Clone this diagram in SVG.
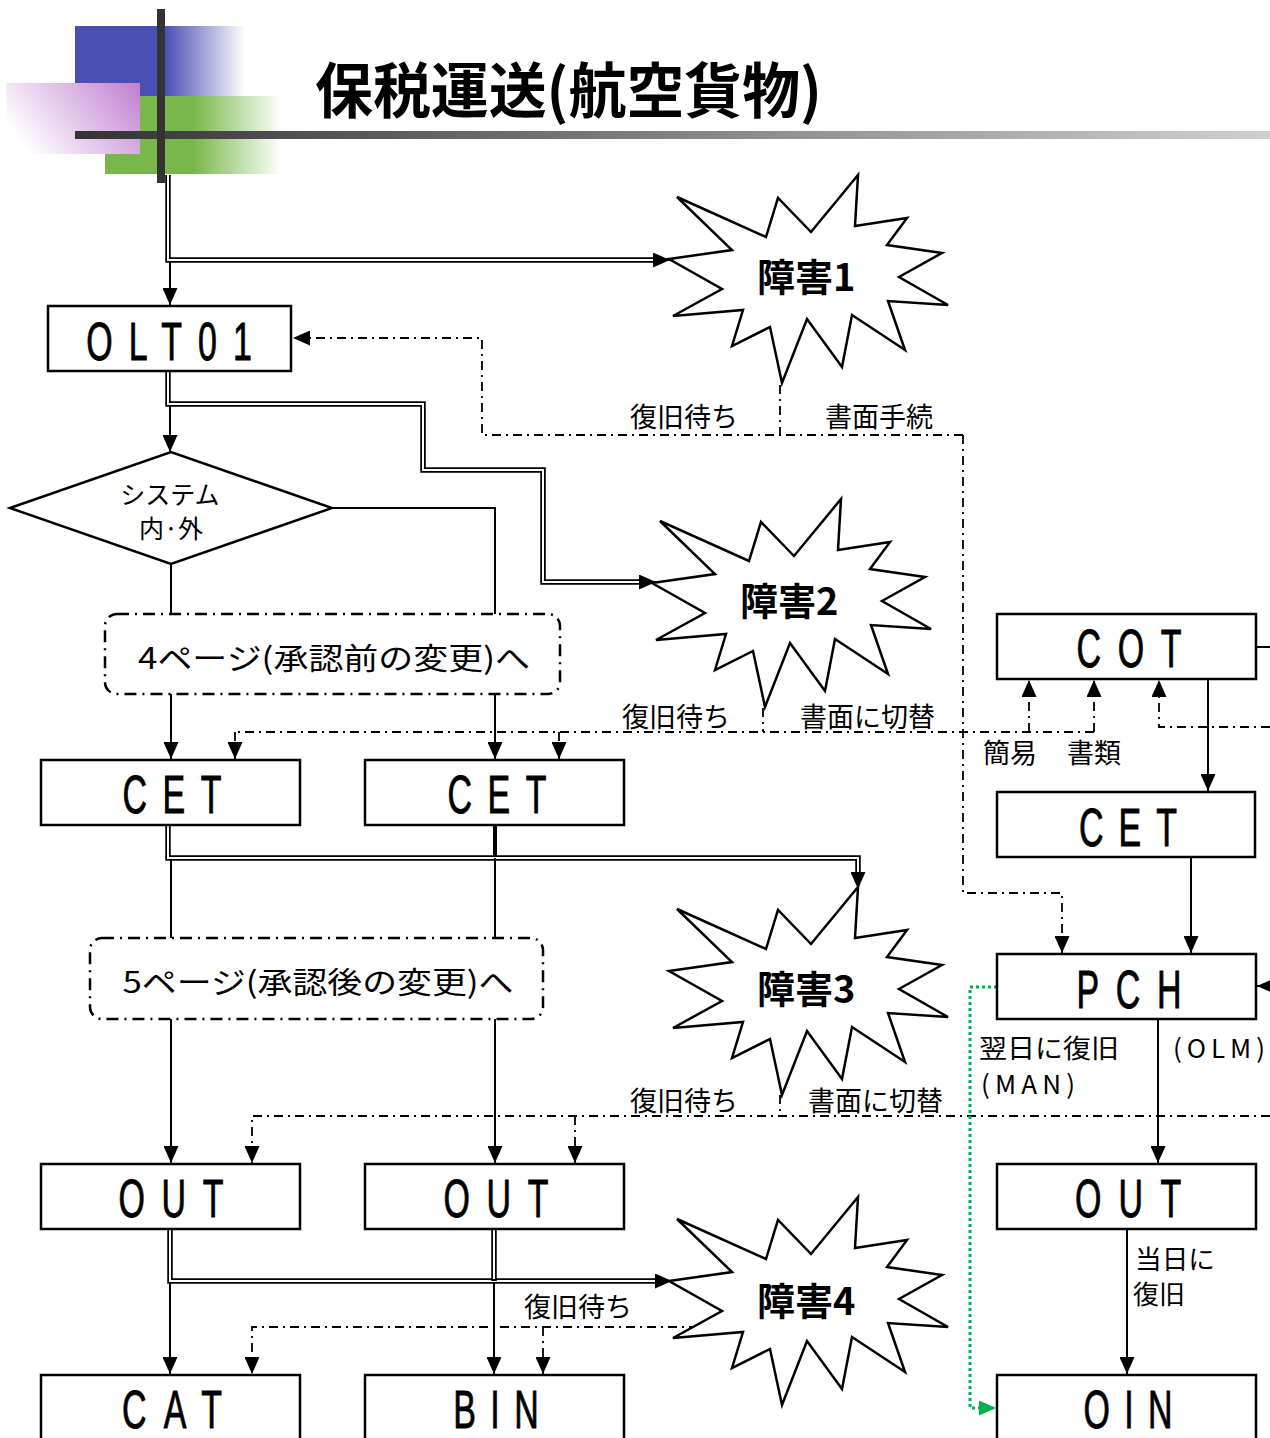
<svg xmlns="http://www.w3.org/2000/svg" xmlns:xlink="http://www.w3.org/1999/xlink" width="1270" height="1438" viewBox="0 0 1270 1438">
<style>
.box{fill:#fff;stroke:#000;stroke-width:2.5}
.bt{font-family:"Liberation Sans",Arial,sans-serif;font-size:53px;fill:#000;stroke:#000;stroke-width:0.9}
.lbl{font-family:"Noto Sans CJK JP","Noto Sans",sans-serif;font-size:27px;fill:#000}
.sm{font-size:26px}
.star{fill:#fff;stroke:#000;stroke-width:2.5;stroke-linejoin:miter}
.st{font-family:"Noto Sans CJK JP","Noto Sans",sans-serif;font-size:38px;font-weight:bold;fill:#000}
.ln{fill:none;stroke:#000;stroke-width:2}
.dd{fill:none;stroke:#000;stroke-width:1.8;stroke-dasharray:9 5 2 5}
.dbo{fill:none;stroke:#000;stroke-width:5.5}
.dbi{fill:none;stroke:#fff;stroke-width:2}
.grn{fill:none;stroke:#00b050;stroke-width:3;stroke-dasharray:3 3}
.page{fill:#fff;stroke:#000;stroke-width:2.5;stroke-dasharray:12 6 2 6}
</style>
<defs>
<marker id="arr" viewBox="0 0 17 15" refX="17" refY="7.5" markerWidth="17" markerHeight="15" markerUnits="userSpaceOnUse" orient="auto">
<path d="M0,0 L17,7.5 L0,15 z" fill="#000"/>
</marker>
<marker id="garr" viewBox="0 0 17 15" refX="17" refY="7.5" markerWidth="17" markerHeight="15" markerUnits="userSpaceOnUse" orient="auto">
<path d="M0,0 L17,7.5 L0,15 z" fill="#00b050"/>
</marker>
<linearGradient id="blueG" gradientUnits="userSpaceOnUse" x1="75" y1="0" x2="245" y2="0">
<stop offset="0.53" stop-color="#4a4fb4" stop-opacity="1"/>
<stop offset="1" stop-color="#4a4fb4" stop-opacity="0"/>
</linearGradient>
<linearGradient id="greenG" gradientUnits="userSpaceOnUse" x1="105" y1="0" x2="282" y2="0">
<stop offset="0.5" stop-color="#78b84a" stop-opacity="1"/>
<stop offset="1" stop-color="#78b84a" stop-opacity="0"/>
</linearGradient>
<linearGradient id="pinkG" gradientUnits="userSpaceOnUse" x1="140" y1="83" x2="40" y2="165">
<stop offset="0" stop-color="#c07fd0"/>
<stop offset="1" stop-color="#ffffff"/>
</linearGradient>
<linearGradient id="barG" gradientUnits="userSpaceOnUse" x1="75" y1="0" x2="1270" y2="0">
<stop offset="0" stop-color="#333333"/>
<stop offset="1" stop-color="#d0d0d0"/>
</linearGradient>
<polygon id="burst" points="669,259 732,250 677,197 766,237 778,198 811,232 858,175 855,226 907,218 887,245 942,253 899,277 948,305 888,301 905,350 852,315 842,367 807,319 782,383 770,327 732,346 743,310 673,316 722,289"/>
</defs>

<g id="header">
<rect x="75" y="26" width="170" height="70" fill="url(#blueG)"/>
<rect x="105" y="96" width="177" height="78" fill="url(#greenG)"/>
<rect x="6" y="83" width="134" height="71" fill="url(#pinkG)"/>
<rect x="75" y="131" width="1195" height="8" fill="url(#barG)"/>
<rect x="157" y="9" width="8" height="174" fill="#333"/>
<text x="315" y="113" font-family="'Noto Sans CJK JP','Noto Sans',sans-serif" font-size="60" font-weight="bold" textLength="507" lengthAdjust="spacingAndGlyphs">保税運送(航空貨物)</text>
</g>

<g id="connectors">
<path class="dbo" d="M168,175 V260 H654"/>
<path class="dbi" d="M168,175 V260 H654"/>
<path class="ln" d="M653,260 L670,260" marker-end="url(#arr)"/>
<path class="ln" d="M170,262 V305" marker-end="url(#arr)"/>
<path class="dbo" d="M168,371 V404 H423 V470 H543 V582 H640"/>
<path class="dbi" d="M168,371 V404 H423 V470 H543 V582 H640"/>
<path class="ln" d="M639,582 L656,582" marker-end="url(#arr)"/>
<path class="ln" d="M170,406 V452" marker-end="url(#arr)"/>
<path class="dbo" d="M168,825 V858 H858 V873"/>
<path class="dbi" d="M168,825 V858 H858 V873"/>
<path class="ln" d="M858,872 L858,889" marker-end="url(#arr)"/>
<path class="ln" style="stroke-width:4" d="M495,825 V856"/>
<path class="dbo" d="M170,1229 V1281 H656"/>
<path class="dbi" d="M170,1229 V1281 H656"/>
<path class="dbo" d="M494,1229 V1281"/>
<path class="dbi" d="M494,1229 V1279"/>
<path class="ln" d="M655,1281 L672,1281" marker-end="url(#arr)"/>
<path class="ln" d="M171,564 V614"/>
<path class="ln" d="M332,508 H495 V614"/>
<path class="ln" d="M171,694 V759" marker-end="url(#arr)"/>
<path class="ln" d="M495,694 V759" marker-end="url(#arr)"/>
<path class="ln" d="M171,860 V938"/>
<path class="ln" d="M495,858 V938"/>
<path class="ln" d="M171,1019 V1163" marker-end="url(#arr)"/>
<path class="ln" d="M495,1019 V1163" marker-end="url(#arr)"/>
<path class="ln" d="M170,1283 V1374" marker-end="url(#arr)"/>
<path class="ln" d="M494,1283 V1374" marker-end="url(#arr)"/>
<path class="ln" d="M1208,679 V791" marker-end="url(#arr)"/>
<path class="ln" d="M1191,857 V953" marker-end="url(#arr)"/>
<path class="ln" d="M1158,1019 V1163" marker-end="url(#arr)"/>
<path class="ln" d="M1127,1229 V1374" marker-end="url(#arr)"/>
<path class="ln" d="M1256,647 H1270"/>
<path class="ln" d="M1272,986 H1257" marker-end="url(#arr)"/>
<path class="dd" d="M780,385 V435"/>
<path class="dd" d="M963,435 H482 V338 H293" marker-end="url(#arr)"/>
<path class="dd" d="M963,435 V893 H1062 V953" marker-end="url(#arr)"/>
<path class="dd" d="M763,708 V732"/>
<path class="dd" d="M1094,732 H235"/>
<path class="dd" d="M235,732 V759" marker-end="url(#arr)"/>
<path class="dd" d="M559,732 V759" marker-end="url(#arr)"/>
<path class="dd" d="M1029,732 V680" marker-end="url(#arr)"/>
<path class="dd" d="M1094,732 V680" marker-end="url(#arr)"/>
<path class="dd" d="M1270,727 H1159 V680" marker-end="url(#arr)"/>
<path class="dd" d="M780,1095 V1116"/>
<path class="dd" d="M1270,1116 H252 V1163" marker-end="url(#arr)"/>
<path class="dd" d="M575,1116 V1163" marker-end="url(#arr)"/>
<path class="dd" d="M698,1327 H252 V1374" marker-end="url(#arr)"/>
<path class="dd" d="M543,1327 V1374" marker-end="url(#arr)"/>
<path class="grn" d="M997,987 H970 V1408 H996" marker-end="url(#garr)"/>
<text class="lbl" x="630" y="427">復旧待ち</text>
<text class="lbl" x="825" y="427">書面手続</text>
<text class="lbl" x="622" y="727">復旧待ち</text>
<text class="lbl" x="800" y="727">書面に切替</text>
<text class="lbl" x="983" y="763">簡易</text>
<text class="lbl" x="1067" y="763">書類</text>
<text class="lbl sm" x="979" y="1058" textLength="140" lengthAdjust="spacingAndGlyphs">翌日に復旧</text>
<text class="lbl sm" x="981" y="1094" textLength="94" lengthAdjust="spacing">(MAN)</text>
<text class="lbl sm" x="1173" y="1058" textLength="92" lengthAdjust="spacing">(OLM)</text>
<text class="lbl" x="630" y="1111">復旧待ち</text>
<text class="lbl" x="808" y="1111">書面に切替</text>
<text class="lbl sm" x="1135" y="1269" textLength="80" lengthAdjust="spacingAndGlyphs">当日に</text>
<text class="lbl sm" x="1133" y="1304">復旧</text>
<text class="lbl" x="524" y="1317">復旧待ち</text>
</g>

<g id="star1">
<use xlink:href="#burst" class="star"/>
<text class="st" x="757" y="291">障害1</text>
</g>
<g id="star2">
<use xlink:href="#burst" class="star" transform="translate(-17,324)"/>
<text class="st" x="740" y="615">障害2</text>
</g>
<g id="star3">
<use xlink:href="#burst" class="star" transform="translate(0,712)"/>
<text class="st" x="757" y="1003">障害3</text>
</g>
<g id="star4">
<use xlink:href="#burst" class="star" transform="translate(0,1022)"/>
<text class="st" x="757" y="1315">障害4</text>
</g>

<g id="OLT01">
<rect class="box" x="48" y="306" width="243" height="65"/>
<g transform="translate(169,360) scale(0.64,1)"><text class="bt" x="0" y="0" text-anchor="middle" textLength="259" lengthAdjust="spacing">OLT01</text></g>
</g>
<g id="decision">
<polygon class="box" points="10,508 171,452 332,508 171,564"/>
<text class="lbl" x="170" y="504" text-anchor="middle" style="font-size:25px">システム</text>
<text class="lbl" x="171" y="538" text-anchor="middle" style="font-size:25px">内·外</text>
</g>
<g id="page4">
<rect class="page" x="105" y="614" width="455" height="80" rx="12"/>
<text class="lbl" x="334" y="669" text-anchor="middle" style="font-size:30px" textLength="392" lengthAdjust="spacingAndGlyphs">4ページ(承認前の変更)へ</text>
</g>
<g id="CET1">
<rect class="box" x="41" y="760" width="259" height="65"/>
<g transform="translate(172,813) scale(0.64,1)"><text class="bt" x="0" y="0" text-anchor="middle" textLength="155" lengthAdjust="spacing">CET</text></g>
</g>
<g id="CET2">
<rect class="box" x="365" y="760" width="259" height="65"/>
<g transform="translate(497,813) scale(0.64,1)"><text class="bt" x="0" y="0" text-anchor="middle" textLength="155" lengthAdjust="spacing">CET</text></g>
</g>
<g id="COT">
<rect class="box" x="997" y="614" width="259" height="65"/>
<g transform="translate(1129,667) scale(0.64,1)"><text class="bt" x="0" y="0" text-anchor="middle" textLength="164" lengthAdjust="spacing">COT</text></g>
</g>
<g id="CET3">
<rect class="box" x="997" y="792" width="258" height="65"/>
<g transform="translate(1128,846) scale(0.64,1)"><text class="bt" x="0" y="0" text-anchor="middle" textLength="153" lengthAdjust="spacing">CET</text></g>
</g>
<g id="page5">
<rect class="page" x="90" y="938" width="453" height="81" rx="12"/>
<text class="lbl" x="318" y="993" text-anchor="middle" style="font-size:30px" textLength="391" lengthAdjust="spacingAndGlyphs">5ページ(承認後の変更)へ</text>
</g>
<g id="PCH">
<rect class="box" x="997" y="954" width="259" height="65"/>
<g transform="translate(1129,1008) scale(0.64,1)"><text class="bt" x="0" y="0" text-anchor="middle" textLength="164" lengthAdjust="spacing">PCH</text></g>
</g>
<g id="OUT1">
<rect class="box" x="41" y="1164" width="259" height="65"/>
<g transform="translate(171,1217) scale(0.64,1)"><text class="bt" x="0" y="0" text-anchor="middle" textLength="164" lengthAdjust="spacing">OUT</text></g>
</g>
<g id="OUT2">
<rect class="box" x="365" y="1164" width="259" height="65"/>
<g transform="translate(496,1217) scale(0.64,1)"><text class="bt" x="0" y="0" text-anchor="middle" textLength="164" lengthAdjust="spacing">OUT</text></g>
</g>
<g id="OUT3">
<rect class="box" x="997" y="1164" width="259" height="65"/>
<g transform="translate(1128,1217) scale(0.64,1)"><text class="bt" x="0" y="0" text-anchor="middle" textLength="166" lengthAdjust="spacing">OUT</text></g>
</g>
<g id="CAT">
<rect class="box" x="41" y="1375" width="259" height="70"/>
<g transform="translate(172,1428) scale(0.64,1)"><text class="bt" x="0" y="0" text-anchor="middle" textLength="156" lengthAdjust="spacing">CAT</text></g>
</g>
<g id="BIN">
<rect class="box" x="365" y="1375" width="259" height="70"/>
<g transform="translate(496,1428) scale(0.64,1)"><text class="bt" x="0" y="0" text-anchor="middle" textLength="134" lengthAdjust="spacing">BIN</text></g>
</g>
<g id="OIN">
<rect class="box" x="997" y="1375" width="259" height="70"/>
<g transform="translate(1128,1428) scale(0.64,1)"><text class="bt" x="0" y="0" text-anchor="middle" textLength="139" lengthAdjust="spacing">OIN</text></g>
</g>
</svg>
